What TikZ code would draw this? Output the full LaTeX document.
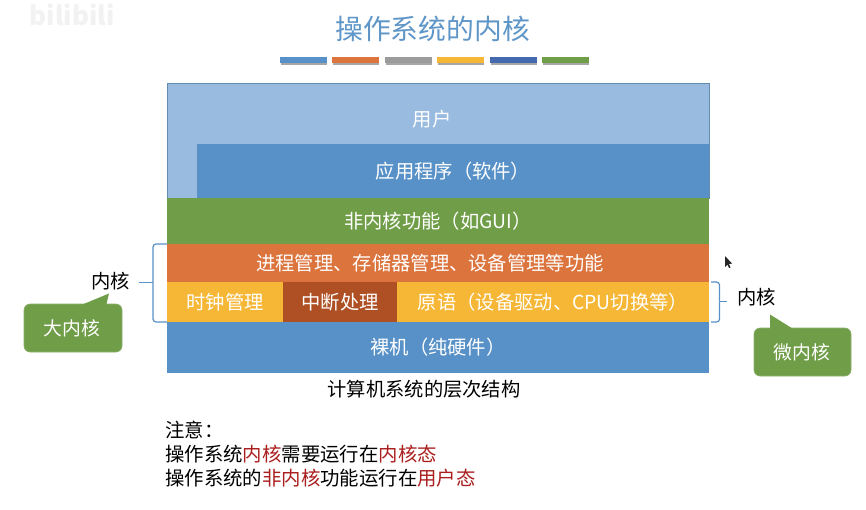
\documentclass[tikz,border=0pt]{standalone}
\usepackage{fontspec}
\setmainfont{Noto Sans CJK SC}
\definecolor{blueA}{RGB}{88,145,199}
\definecolor{blueL}{RGB}{154,187,224}
\definecolor{blueD}{RGB}{68,105,175}
\definecolor{grayA}{RGB}{155,155,155}
\definecolor{greenA}{RGB}{112,157,72}
\definecolor{orangeA}{RGB}{220,116,62}
\definecolor{yellowA}{RGB}{246,183,54}
\definecolor{brownA}{RGB}{174,80,36}
\definecolor{titleC}{RGB}{95,150,200}
\definecolor{redT}{RGB}{170,30,30}
\tikzset{
  x=1pt,y=-1pt,
  layer/.style={inner sep=0pt,outer sep=0pt,anchor=north west,text=white,font=\fontsize{19.3}{21}\selectfont,align=center},
  lab/.style={inner sep=0pt,font=\fontsize{19.3}{21}\selectfont,text=black},
  brace/.style={draw=blueA,line width=1.2pt,rounded corners=3pt},
  call/.style={fill=greenA,draw=greenA!80!white,line width=.6pt,rounded corners=6pt},
  calltxt/.style={inner sep=0pt,text=white,font=\fontsize{18.8}{21}\selectfont},
  note/.style={inner sep=0pt,anchor=west,font=\fontsize{19.4}{21}\selectfont,text=black}
}
\newcommand{\rd}[1]{\textcolor{redT}{#1}}
\begin{document}
\begin{tikzpicture}
\useasboundingbox (0,0) rectangle (866,509);
\fill[white] (0,0) rectangle (866,509);
\node[inner sep=0pt,text=black!5,font=\fontsize{26}{28}\selectfont\bfseries] (wm) at (72,15) {bilibili};
\node[inner sep=0pt,text=titleC,font=\fontsize{27.8}{30}\selectfont] (title) at (432.5,29) {操作系统的内核};
\foreach \a/\c in {280/blueA,332/orangeA,385/grayA,437/yellowA,490/blueD,542/greenA}{
  \fill[black!35] (\a+.5,60) rectangle ++(46.5,4.5);
  \fill[\c] (\a,56.5) rectangle ++(47,6);
}
% layers
\path[fill=blueL,draw=blueA!70!gray,line width=.5pt] (167,83) -- (709,83) -- (709,198) -- (167,198) -- cycle;
\node[lab,text=white] (user) at (432,119) {用户};
\node[layer,fill=blueA,minimum width=512pt,minimum height=54pt] (app) at (197,144) {应用程序（软件）};
\node[layer,fill=greenA,minimum width=542pt,minimum height=46pt] (nonk) at (167,198) {非内核功能（如GUI）};
\node[layer,fill=orangeA,minimum width=542pt,minimum height=38pt] (proc) at (167,244) {\hspace*{-16pt}进程管理、存储器管理、设备管理等功能};
\node[layer,fill=yellowA,minimum width=116pt,minimum height=40pt] (clock) at (167,282) {时钟管理};
\node[layer,fill=brownA,minimum width=114pt,minimum height=40pt] (intr) at (283,282) {中断处理};
\node[layer,fill=yellowA,minimum width=312pt,minimum height=40pt] (prim) at (397,282) {原语（设备驱动、CPU切换等）};
\node[layer,fill=blueA,minimum width=542pt,minimum height=51pt] (hw) at (167,322) {裸机（纯硬件）};
\node[lab] (cap) at (424,389) {计算机系统的层次结构};
% left brace
\coordinate (lt) at (167,244); \coordinate (lb) at (167,322); \coordinate (lm) at (139,282.5);
\draw[brace] (lt) -- (153,244) -- (153,282.5);
\draw[brace] (lb) -- (153,322) -- (153,282.5);
\draw[brace,rounded corners=0pt] (153,282.5) -- (lm);
\node[lab] (kl) at (110.5,281) {内核};
% right brace
\coordinate (rt) at (711,282); \coordinate (rb) at (711,322); \coordinate (rm) at (727,301.5);
\draw[brace] (rt) -- (719.5,282) -- (719.5,301.5);
\draw[brace] (rb) -- (719.5,322) -- (719.5,301.5);
\draw[brace,rounded corners=0pt] (719.5,301.5) -- (rm);
\node[lab] (kr) at (756.5,297) {内核};
% callouts
\path[call] (24,304) -- (122,304) -- (122,352) -- (24,352) -- cycle;
\path[fill=greenA] (80,305.5) -- (109,293.5) -- (106,306) -- cycle;
\node[calltxt] (big) at (72,328) {大内核};
\path[call] (754,328) -- (851,328) -- (851,376) -- (754,376) -- cycle;
\path[fill=greenA] (770,330) -- (770,314.5) -- (794,329.5) -- cycle;
\node[calltxt] (micro) at (802,352) {微内核};
% cursor
\path[fill=black!85] (725,256) -- (725,267) -- (727.5,264.5) -- (729,268) -- (730.5,267.5) -- (729,264) -- (732,263.5) -- cycle;
% notes
\node[note] (n1) at (165,430) {注意：};
\node[note] (n2) at (165,454) {操作系统\rd{内核}需要运行在\rd{内核态}};
\node[note] (n3) at (165,478) {操作系统的\rd{非内核}功能运行在\rd{用户态}};
\end{tikzpicture}
\end{document}
